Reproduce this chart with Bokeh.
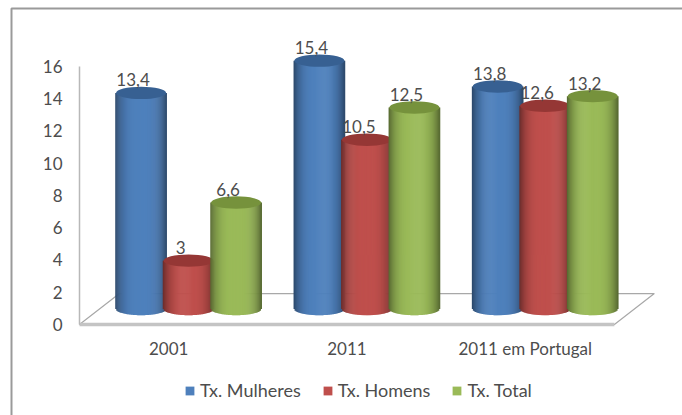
import numpy as np
from bokeh.plotting import figure
from bokeh.models import Range1d, FixedTicker, Legend, LegendItem
from bokeh.core.properties import value
from bokeh.embed import file_html
from bokeh.resources import INLINE

categories = ["2001", "2011", "2011 em Portugal"]
mulheres = [13.4, 15.4, 13.8]
homens = [3, 10.5, 12.6]
total = [6.6, 12.5, 13.2]
series_names = ["Tx. Mulheres", "Tx. Homens", "Tx. Total"]
y_ticks = [0, 2, 4, 6, 8, 10, 12, 14, 16]

FONT = "Lato"
TXT = "#4d4d4d"
body_cols = [(79, 129, 189), (192, 80, 77), (155, 187, 89)]
top_cols = ["#376092", "#953735", "#76923c"]

DX, DY = 0.112, 0.96          # depth shift of bars
BACK_X, BACK_Y = 0.224, 1.92  # floor depth
W, H = 0.281, 0.77            # cylinder width / cap height
OFFS = [-0.2665, 0.0, 0.2665]
X0, X1, Y0, Y1 = -0.443, 3.382, -5.643, 20.09

p = figure(width=682, height=415, toolbar_location=None, output_backend="svg",
           x_range=Range1d(X0, X1), y_range=Range1d(Y0, Y1),
           min_border_left=0, min_border_right=0, min_border_top=0, min_border_bottom=0)
p.grid.visible = False
p.outline_line_color = None
p.background_fill_color = "white"

ya = p.yaxis[0]
ya.fixed_location = 0
ya.ticker = FixedTicker(ticks=y_ticks)
ya.bounds = (0, 16)
ya.major_tick_line_color = None
ya.minor_tick_line_color = None
ya.axis_line_color = "#b8b8b8"
ya.axis_line_width = 1.5
ya.major_label_standoff = 11
ya.major_label_text_font = FONT
ya.major_label_text_font_size = "17px"
ya.major_label_text_color = TXT

xa = p.xaxis[0]
xa.fixed_location = 0
xa.ticker = FixedTicker(ticks=[0.5, 1.5, 2.5])
xa.major_label_overrides = {i + 0.5: c for i, c in enumerate(categories)}
xa.axis_line_color = None
xa.major_tick_line_color = None
xa.minor_tick_line_color = None
xa.major_label_standoff = 8
xa.major_label_text_font = FONT
xa.major_label_text_font_size = "17px"
xa.major_label_text_color = TXT

# picture border: top and left only, running off the page
bx = X0 + (11 / 682) * (X1 - X0)
by = Y1 - (8 / 415) * (Y1 - Y0)
p.line([bx, bx, X1], [Y0, by, by], line_color="#9a9a9a", line_width=2)

# floor
p.patch([0, 3, 3 + BACK_X, BACK_X], [0, 0, BACK_Y, BACK_Y], fill_color="white",
        line_color="#a8a8a8", line_width=1.2)
p.line([0, 3], [0, 0], line_color="#c4c4c4", line_width=3.5)

# cylinders
n = 50
ts = np.linspace(-1, 1, n)
legend_refs = {}
for g in range(3):
    for s, vals in enumerate([mulheres, homens, total]):
        v = vals[g]
        cx = g + 0.5 + DX + OFFS[s]
        dx = W / n
        left = cx + ts * W / 2 - dx * 0.8
        right = cx + ts * W / 2 + dx * 0.8
        shade = 1 - 0.42 * np.abs(ts) ** 3.2
        cols = ["#%02x%02x%02x" % tuple(int(c * f) for c in body_cols[s]) for f in shade]
        bottom = DY - (H / 2) * np.sqrt(np.clip(1 - ts ** 2, 0, 1))
        top = np.full(n, v + DY)
        r = p.quad(left=left, right=right, top=top, bottom=bottom, fill_color=cols, line_color=None)
        legend_refs.setdefault(s, r)
        p.ellipse(x=[cx], y=[v + DY], width=W, height=H, fill_color=top_cols[s], line_color=None)

# data labels
for s, vals in enumerate([mulheres, homens, total]):
    xs = [g + 0.5 + DX + OFFS[s] for g in range(3)]
    ys = [v + DY for v in vals]
    txt = [str(v).replace(".", ",") for v in vals]
    p.text(xs, ys, text=txt, x_offset=-8, y_offset=-13, text_align="center",
           text_baseline="middle", text_font=value(FONT), text_font_size="17px", text_color=TXT)

# legend
items = [LegendItem(label=name, renderers=[legend_refs[s]], index=n // 2)
         for s, name in enumerate(series_names)]
leg = Legend(items=items, orientation="horizontal", location=(184, 14), glyph_width=11, glyph_height=11,
             spacing=21, padding=0, margin=0, label_standoff=5, border_line_color=None,
             background_fill_alpha=0, label_text_font=FONT, label_text_font_size="18px", label_text_color=TXT)
p.add_layout(leg, "center")

open("out.html", "w").write(file_html(p, INLINE))
